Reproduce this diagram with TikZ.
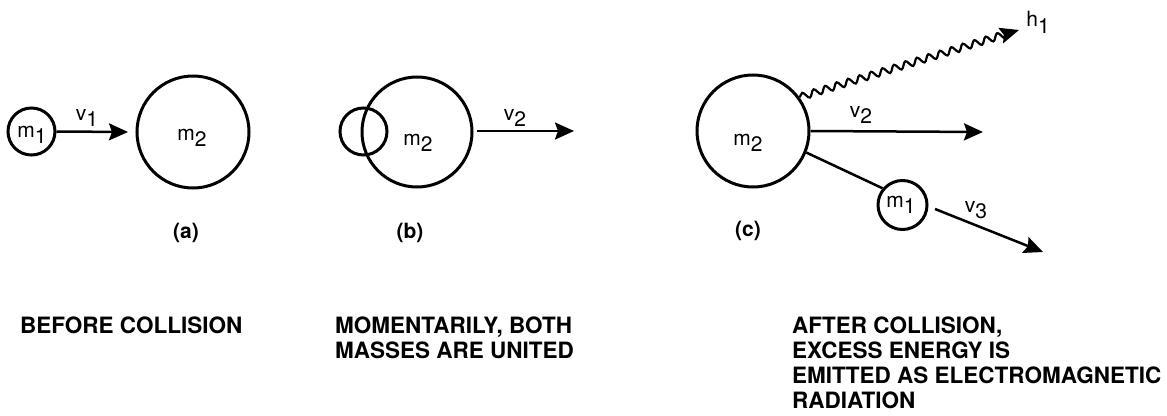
\documentclass[tikz,border=0pt]{standalone}
\usepackage{fontspec}
\setmainfont{TeX Gyre Heros}
\usetikzlibrary{arrows.meta,decorations.pathmorphing}
\newcommand\subl[2]{#1\raisebox{-0.33em}{#2}}
\begin{document}
\begin{tikzpicture}[x=1pt,y=-1pt,
  mass/.style={circle,draw,line width=3pt,inner sep=0pt,minimum size=#1},
  arr/.style={line width=2.5pt,-{Stealth[length=19pt,width=17pt,inset=3pt]}},
  lab/.style={font=\fontsize{21}{21}\selectfont,anchor=base,inner sep=0pt},
  paneltag/.style={font=\fontsize{21}{21}\selectfont\bfseries,inner sep=0pt},
  note/.style={font=\fontsize{22.5}{25}\selectfont\bfseries,anchor=base west,inner sep=0pt}]
\useasboundingbox (0,0) rectangle (1167,415);

% (a)
\node[mass=47pt] (m1a) at (31.5,131.5) {};
\node[mass=112pt] (m2a) at (193,132) {};
\node[lab] (tm1a) at (32,137) {\subl{m}{1}};
\node[lab] (tm2a) at (192,140) {\subl{m}{2}};
\coordinate (tipa) at (128,132);
\draw[arr] (m1a.east) -- (tipa);
\node[lab] (tv1) at (87,120) {\subl{v}{1}};
\node[paneltag] (capa) at (186,233) {(a)};

% (b)
\node[mass=110pt] (m2b) at (417,132) {};
\node[mass=47pt] (m1b) at (363.5,131.5) {};
\node[lab] (tm2b) at (418,145) {\subl{m}{2}};
\coordinate (startb) at (477,131);
\coordinate (tipb) at (574,131);
\draw[arr] (startb) -- (tipb);
\node[lab] (tv2b) at (515,120) {\subl{v}{2}};
\node[paneltag] (capb) at (410,233) {(b)};

% (c)
\node[mass=112pt] (m2c) at (753,131) {};
\node[lab] (tm2c) at (748,145) {\subl{m}{2}};
\coordinate (tipc) at (983,132);
\draw[arr] (m2c.east) -- (tipc);
\node[lab] (tv2c) at (861,117) {\subl{v}{2}};

\coordinate (tiph) at (1019,30);
\draw[line width=2.2pt,-{Stealth[length=19pt,width=16pt,inset=3pt]},
  decorate,decoration={snake,amplitude=3.4pt,segment length=12pt,post length=9pt}]
  (m2c.36) -- (tiph);
\node[lab] (th1) at (1038,27) {\subl{h}{1}};

\node[mass=49pt] (m1c) at (902.5,205) {};
\node[lab] (tm1c) at (901,207) {\subl{m}{1}};
\draw[line width=2.5pt] (m2c.-22) -- (m1c.140);
\coordinate (v3s) at (935,209);
\coordinate (tipv3) at (1043,252);
\draw[arr] (v3s) -- (tipv3);
\node[lab] (tv3) at (976,212) {\subl{v}{3}};
\node[paneltag] (capc) at (748,231) {(c)};

% notes
\node[note] (na) at (20,333) {BEFORE COLLISION};
\node[note] (nb1) at (335,333) {MOMENTARILY, BOTH};
\node[note] (nb2) at (335,358) {MASSES ARE UNITED};
\node[note] (nc1) at (792,333) {AFTER COLLISION,};
\node[note] (nc2) at (792,358) {EXCESS ENERGY IS};
\node[note] (nc3) at (792,383) {EMITTED AS ELECTROMAGNETIC};
\node[note] (nc4) at (792,408) {RADIATION};
\end{tikzpicture}
\end{document}
